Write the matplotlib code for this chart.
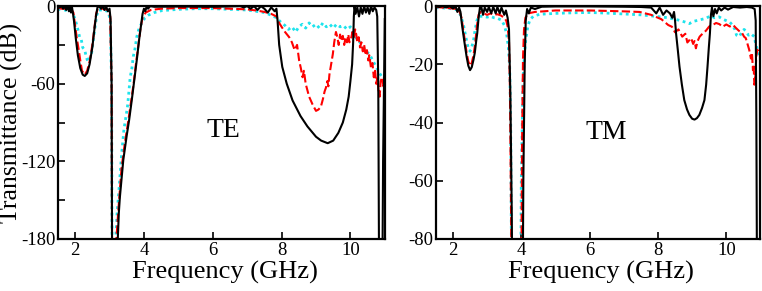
import numpy as np
import matplotlib
matplotlib.use("Agg")
import matplotlib.pyplot as plt

plt.rcParams.update({
    "font.family": "Liberation Serif",
    "font.size": 14,
    "axes.unicode_minus": False,
})

# ---------------- TE panel data (GHz, dB) ----------------
te_f_black = [1.50, 1.55, 1.60, 1.65, 1.70, 1.74, 1.78, 1.82, 1.85, 1.88, 1.91, 1.94,
              1.97, 2.02, 2.08, 2.15, 2.22, 2.28, 2.35, 2.42, 2.50, 2.56, 2.61, 2.65,
              2.70, 2.75, 2.80, 2.85, 2.90, 2.95, 3.00, 3.03, 3.06, 3.08, 3.22,
              3.24, 3.27, 3.30, 3.40, 3.50, 3.57, 3.65, 3.72, 3.80, 3.86, 3.92, 3.96,
              4.00, 4.04, 4.08, 4.12, 4.18, 4.30, 5.00, 6.00, 6.80, 6.90, 7.00, 7.10,
              7.20, 7.30, 7.40, 7.50, 7.60, 7.70, 7.80, 7.85,
              7.88, 7.93, 8.02, 8.15, 8.32, 8.55, 8.75, 9.00, 9.15, 9.34, 9.50, 9.65,
              9.78, 9.88, 9.95, 10.00, 10.05, 10.08, 10.10, 10.12,
              10.15, 10.20, 10.25, 10.30, 10.35, 10.40, 10.45, 10.50, 10.55, 10.60,
              10.65, 10.70, 10.75, 10.78, 10.81, 10.84, 10.92, 10.95, 11.00]
te_black = [0, -1, 0, -2, 0, -3, 0, -4, 0, -5, -1, -6,
            -12, -25, -38, -48, -53, -54, -52, -45, -32, -18, -7, -1,
            0, -2, 0, -3, 0, -4, -2, -10, -60, -250, -250,
            -180, -160, -148, -119, -100, -88, -72, -57, -40, -26, -14, -6,
            -2, -4, 0, -2, 0, -0.5, -0.3, -0.5, 0, -1, 0, -2,
            0, -3, 0, -2, -5, -1, -4, -2,
            -10, -30, -47, -60, -73, -85, -93, -101, -104, -106, -104, -98,
            -90, -80, -70, -58, -45, -28, -8, 0,
            -6, -1, -8, -1, -6, 0, -5, -1, -6, 0,
            -4, -1, -3, -8, -60, -250, -250, -120, -10]

te_f_red = [1.50, 1.60, 1.70, 1.80, 1.90, 1.95, 2.00, 2.05, 2.10, 2.15, 2.20, 2.28,
            2.35, 2.42, 2.50, 2.56, 2.61, 2.66, 2.80, 2.95, 3.02, 3.06, 3.08, 3.18,
            3.20, 3.25, 3.35, 3.45, 3.55, 3.62, 3.70, 3.78, 3.85, 3.90, 3.96, 4.05,
            4.20, 4.50, 5.00, 5.50, 6.00, 6.50, 7.00, 7.30, 7.50, 7.70, 7.85, 7.93,
            8.00, 8.10, 8.22, 8.30, 8.38, 8.45, 8.51, 8.56, 8.61, 8.65, 8.70, 8.80,
            8.90, 9.00, 9.07, 9.14, 9.20, 9.25, 9.29, 9.33, 9.36, 9.39, 9.44, 9.49,
            9.53, 9.58, 9.62, 9.66, 9.70, 9.73, 9.78, 9.82, 9.86, 9.90, 9.94, 9.97,
            10.02, 10.06, 10.10, 10.14, 10.17, 10.20, 10.24, 10.28, 10.32, 10.36,
            10.40, 10.44, 10.48, 10.52, 10.55, 10.60, 10.64, 10.68, 10.72, 10.75,
            10.78, 10.82, 10.85, 10.88, 10.92, 10.96, 11.00]
te_red = [-1, -2, -2, -3, -3, -5, -15, -25, -33, -42, -50, -53,
          -50, -43, -30, -17, -6, -2, -2, -3, -8, -60, -250, -250,
          -180, -160, -125, -105, -88, -75, -60, -42, -28, -17, -9, -5,
          -3, -2, -1.5, -1.5, -1.5, -2, -2.5, -3.5, -4.5, -6, -8, -13,
          -16, -20, -24, -28, -34, -30, -42, -48, -55, -50, -60, -70,
          -76, -81, -80, -78, -72, -66, -63, -58, -62, -53, -45, -37,
          -28, -20, -24, -30, -22, -27, -23, -30, -24, -28, -22, -28,
          -25, -20, -24, -18, -22, -28, -24, -32, -28, -35,
          -30, -38, -34, -42, -38, -48, -44, -55, -50, -60,
          -56, -66, -70, -58, -55, -62, -52]

te_f_cyan = [1.50, 1.60, 1.70, 1.80, 1.90, 2.00, 2.05, 2.09, 2.13, 2.18, 2.22, 2.28,
             2.33, 2.38, 2.43, 2.48, 2.53, 2.58, 2.63, 2.68, 2.80, 2.95, 3.02, 3.06,
             3.08, 3.15, 3.18, 3.22, 3.28, 3.35, 3.42, 3.48, 3.52, 3.55, 3.60, 3.65,
             3.69, 3.74, 3.79, 3.86, 3.94, 4.03, 4.13, 4.30, 4.52, 5.00, 5.50, 6.00,
             6.50, 7.00, 7.50, 7.70, 7.85, 8.00, 8.10, 8.20, 8.30, 8.41, 8.50, 8.60,
             8.70, 8.80, 8.90, 9.00, 9.10, 9.20, 9.30, 9.40, 9.50, 9.60, 9.70, 9.80,
             9.90, 10.00, 10.07, 10.15, 10.25, 10.36, 10.45, 10.55, 10.65, 10.75,
             10.85, 10.95, 11.00]
te_cyan = [-2, -3, -3, -4, -4, -10, -15, -19, -24, -26, -32, -34,
           -40, -43, -40, -36, -26, -16, -7, -3, -3, -4, -10, -60,
           -250, -250, -180, -160, -140, -115, -95, -85, -78, -70, -55, -48,
           -39, -33, -24, -17, -13, -9, -7, -5, -3.5, -2.5, -2, -2,
           -2.5, -3, -5, -7, -9, -13, -15, -18, -16, -20, -16, -14,
           -17, -13, -16, -14, -17, -13, -16, -14, -17, -14, -16, -15,
           -18, -16, -20, -24, -27, -31, -35, -37, -42, -47,
           -52, -56, -55]

# ---------------- TM panel data (GHz, dB) ----------------
tm_f_black = [1.50, 1.60, 1.70, 1.80, 1.90, 2.00, 2.08, 2.13, 2.18, 2.22, 2.26, 2.30,
              2.35, 2.40, 2.45, 2.50, 2.55, 2.60, 2.64, 2.68, 2.71, 2.75, 2.79, 2.83,
              2.88, 2.93, 3.00, 3.05, 3.12, 3.18, 3.25, 3.30, 3.37, 3.42, 3.50, 3.55,
              3.60, 3.64, 3.68, 3.72, 3.74, 4.04, 4.06, 4.10, 4.13, 4.17, 4.22, 4.28,
              4.40, 4.60, 5.00, 6.00, 7.00, 7.50, 7.80, 7.95, 8.05, 8.15, 8.25, 8.35,
              8.42, 8.47, 8.50, 8.53, 8.58, 8.63, 8.70, 8.77, 8.85, 8.92, 9.00, 9.07,
              9.14, 9.21, 9.29, 9.36, 9.41, 9.45, 9.49, 9.52, 9.55, 9.58, 9.62, 9.67,
              9.72, 9.78, 9.85, 9.95, 10.05, 10.20, 10.40, 10.60, 10.75, 10.83, 10.86,
              10.88, 10.90, 11.00]
tm_black = [0, -0.3, 0, -0.5, 0, -0.8, -0.2, -2, -0.5, -2, -6, -9.4,
            -13.5, -17.4, -20.5, -22, -21, -18.5, -16, -12, -9.4, -4, -0.5, -0.3,
            -3, -0.5, -2, -0.3, -2.5, -0.3, -2.5, -0.3, -2.5, -0.5, -3, -1.5,
            -4, -8, -30, -70, -100, -100, -60, -20, -5, -1, -2.5, -0.5,
            -1, -0.2, -0.1, -0.1, -0.2, -0.3, -0.5, -2.5, -0.5, -3, -1.5, -2.5,
            -4, -2, -5, -9.4, -15, -20.8, -27, -32.3, -35.5, -37.4, -38.7, -39,
            -38.5, -37.4, -35, -32.3, -27, -20.8, -14, -9.4, -3, -0.5, -3.5, -1,
            -2.5, -0.5, -1.5, -0.5, -1.2, -0.3, -0.5, -0.3, -0.5, -1, -5,
            -40, -100, -100]

tm_f_red = [1.50, 1.70, 1.90, 2.10, 2.20, 2.25, 2.30, 2.35, 2.40, 2.45, 2.50, 2.55,
            2.60, 2.65, 2.70, 2.75, 2.80, 2.90, 3.00, 3.10, 3.20, 3.30, 3.40, 3.50,
            3.56, 3.60, 3.64, 3.67, 3.70, 3.72, 4.00, 4.02, 4.05, 4.08, 4.12, 4.20,
            4.40, 5.00, 6.00, 7.00, 7.46, 7.80, 8.10, 8.30, 8.41, 8.50, 8.60, 8.71,
            8.80, 8.86, 8.92, 8.97, 9.03, 9.07, 9.11, 9.16, 9.22, 9.31, 9.40, 9.50,
            9.60, 9.70, 9.80, 9.89, 10.00, 10.10, 10.20, 10.28, 10.37, 10.45, 10.52,
            10.57, 10.62, 10.67, 10.72, 10.75, 10.78, 10.80, 10.82, 10.85, 10.88,
            10.91, 10.95, 11.00]
tm_red = [-0.3, -0.5, -0.7, -1.0, -2, -4, -8, -12, -16, -19, -20.5, -19.5,
          -17, -13, -7, -3, -2, -2.5, -3, -2.5, -3, -2.8, -3.2, -4,
          -5, -7, -12, -30, -70, -100, -100, -50, -18, -8, -4, -2.5,
          -2, -1.5, -1.5, -1.8, -2, -3, -4.5, -6.5, -7.1, -9, -8, -10.5,
          -9.5, -12.5, -11.7, -11, -13, -12, -14.5, -12, -10.5, -9.4, -8.5, -7,
          -6.5, -5.8, -6.2, -7.1, -6.3, -7, -6.5, -7.5, -8.5, -9, -10.5,
          -11, -13, -15, -18, -16, -22, -20, -27, -24, -17,
          -15, -16, -15]

tm_f_cyan = [1.50, 1.70, 1.90, 2.10, 2.20, 2.30, 2.35, 2.40, 2.45, 2.50, 2.55, 2.60,
             2.65, 2.70, 2.75, 2.80, 2.90, 3.00, 3.10, 3.20, 3.30, 3.42, 3.50, 3.57,
             3.62, 3.66, 3.69, 3.72, 3.98, 4.00, 4.05, 4.09, 4.13, 4.19, 4.25, 4.35,
             4.54, 5.00, 5.50, 6.00, 6.50, 7.00, 7.50, 8.00, 8.30, 8.60, 8.80, 8.92,
             9.05, 9.20, 9.40, 9.55, 9.65, 9.79, 9.90, 10.00, 10.10, 10.18, 10.25,
             10.30, 10.38, 10.45, 10.52, 10.57, 10.65, 10.72, 10.82, 10.86, 10.91,
             10.96, 11.00]
tm_cyan = [-0.5, -0.6, -0.8, -1.2, -2.5, -6, -9, -12, -14.5, -15.5, -14, -12,
           -8, -5, -3.5, -3.5, -3.5, -3.8, -3.5, -4, -4.2, -4.8, -6.5, -9.4,
           -14, -20.8, -40, -100, -100, -60, -26.5, -17, -11.7, -7, -4.8, -3.5,
           -2.8, -2.5, -2.3, -2.2, -2.4, -2.7, -3, -3.6, -4, -4.8, -5.5, -6,
           -5.2, -4.8, -4.2, -3.3, -4, -3.7, -4.5, -5, -5.5, -6.5, -8,
           -10, -10.5, -9, -8, -8.5, -10, -9.5, -10.5, -13, -15,
           -17, -16]

x_ticks = [2, 4, 6, 8, 10]
te_y_ticks = [0, -60, -120, -180]
tm_y_ticks = [0, -20, -40, -60, -80]

fig = plt.figure(figsize=(7.62, 2.91), dpi=100)
ax1 = fig.add_axes([0.076, 0.179, 0.429, 0.800])
ax2 = fig.add_axes([0.572, 0.179, 0.426, 0.800])

red_dash = (0, (4, 1.6))
cyan_dot = (0, (1.0, 1.3))


def draw_panel(ax, fb, b, fr, r, fc, c, yticks, ylim, label, label_xy):
    ax.plot(fc, c, color="#1ee3ec", linestyle=cyan_dot, linewidth=2.0)
    ax.plot(fr, r, color="#ff0000", linestyle=red_dash, linewidth=1.5)
    ax.plot(fb, b, color="black", linewidth=1.5)
    ax.set_xlim(1.5, 11)
    ax.set_ylim(*ylim)
    ax.set_xticks(x_ticks)
    ax.set_yticks(yticks)
    ax.tick_params(direction="in", length=5, width=1.2, labelsize=13.5, pad=2)
    for s in ax.spines.values():
        s.set_linewidth(1.6)
    ax.set_xlabel("Frequency (GHz)", fontsize=19)
    ax.xaxis.set_label_coords(0.51, -0.095)
    ax.text(label_xy[0], label_xy[1], label, fontsize=20, ha="center", va="center")


draw_panel(ax1, te_f_black, te_black, te_f_red, te_red, te_f_cyan, te_cyan,
           te_y_ticks, (-180, 0), "TE", (6.3, -96))
ax1.set_yticks([-30, -90, -150], minor=True)
ax1.tick_params(which="minor", direction="in", length=5, width=1.2)
ax1.set_ylabel("Transmittance (dB)", fontsize=18.5)
ax1.yaxis.set_label_coords(-0.108, 0.5)

draw_panel(ax2, tm_f_black, tm_black, tm_f_red, tm_red, tm_f_cyan, tm_cyan,
           tm_y_ticks, (-80, 0), "TM", (6.5, -43.5))

fig.savefig("out.png", dpi=100)
